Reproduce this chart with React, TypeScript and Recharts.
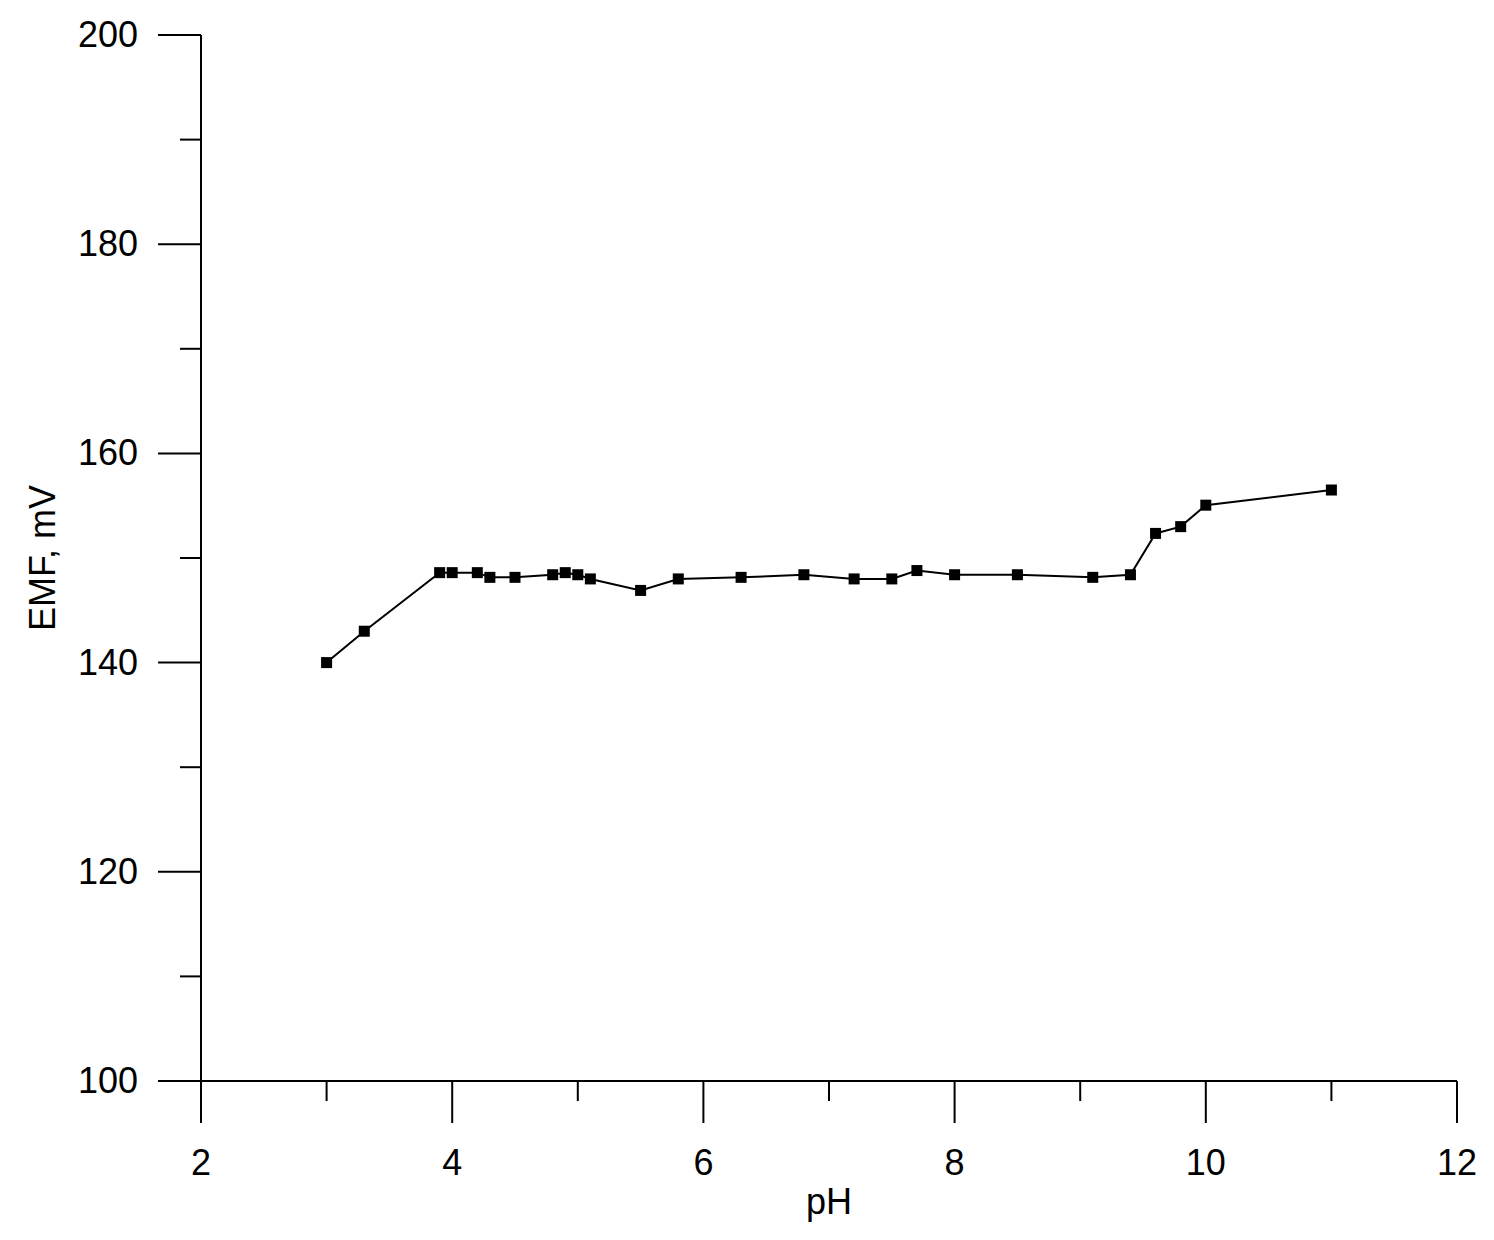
import { LineChart, Line, XAxis, YAxis, Label } from 'recharts';

const phValues = [3.0, 3.3, 3.9, 4.0, 4.2, 4.3, 4.5, 4.8, 4.9, 5.0, 5.1, 5.5, 5.8, 6.3, 6.8, 7.2, 7.5, 7.7, 8.0, 8.5, 9.1, 9.4, 9.6, 9.8, 10.0, 11.0];
const emfValues = [140.0, 143.0, 148.6, 148.6, 148.6, 148.15, 148.15, 148.4, 148.6, 148.4, 148.0, 146.9, 148.0, 148.15, 148.4, 148.0, 148.0, 148.8, 148.4, 148.4, 148.15, 148.4, 152.35, 153.0, 155.05, 156.5];

const xTicks = [2, 3, 4, 5, 6, 7, 8, 9, 10, 11, 12];
const yTicks = [100, 110, 120, 130, 140, 150, 160, 170, 180, 190, 200];

const data = phValues.map((ph, i) => ({ ph, emf: emfValues[i] }));

const FONT = '"Liberation Sans", Arial, sans-serif';

function XTick({ x, y, payload }: any) {
  const major = payload.value % 2 === 0;
  return (
    <g>
      <line x1={x} x2={x} y1={y} y2={y + (major ? 42 : 20)} stroke="#000" strokeWidth={2} />
      {major && (
        <text x={x} y={y + 94} textAnchor="middle" fontSize={36} fontFamily={FONT} fill="#000">
          {payload.value}
        </text>
      )}
    </g>
  );
}

function YTick({ x, y, payload }: any) {
  const major = payload.value % 20 === 0;
  return (
    <g>
      <line x1={x} x2={x - (major ? 43 : 21)} y1={y} y2={y} stroke="#000" strokeWidth={2} />
      {major && (
        <text x={x - 63} y={y + 12} textAnchor="end" fontSize={36} fontFamily={FONT} fill="#000">
          {payload.value}
        </text>
      )}
    </g>
  );
}

function SquareDot({ cx, cy }: any) {
  if (cx == null || cy == null) return null;
  return <rect x={cx - 5.5} y={cy - 5.5} width={11} height={11} fill="#000" />;
}

export default function App() {
  return (
    <div style={{ position: 'absolute', left: 0, top: 0, width: 1494, height: 1240, background: '#fff' }}>
      <LineChart width={1494} height={1240} data={data} margin={{ top: 35, right: 37, left: 0, bottom: 0 }}>
        <XAxis
          dataKey="ph"
          type="number"
          domain={[2, 12]}
          ticks={xTicks}
          interval={0}
          height={159}
          tickSize={0}
          tickMargin={0}
          tickLine={false}
          tick={<XTick />}
          axisLine={{ stroke: '#000', strokeWidth: 2 }}
        >
          <Label
            content={({ viewBox }: any) => (
              <text
                x={viewBox.x + viewBox.width / 2}
                y={viewBox.y + 133}
                textAnchor="middle"
                fontSize={36}
                fontFamily={FONT}
                fill="#000"
              >
                pH
              </text>
            )}
          />
        </XAxis>
        <YAxis
          type="number"
          domain={[100, 200]}
          ticks={yTicks}
          interval={0}
          width={201}
          tickSize={0}
          tickMargin={0}
          tickLine={false}
          tick={<YTick />}
          axisLine={{ stroke: '#000', strokeWidth: 2 }}
        >
          <Label
            content={({ viewBox }: any) => {
              const cx = viewBox.x + 55;
              const cy = viewBox.y + viewBox.height / 2;
              return (
                <text
                  x={cx}
                  y={cy}
                  transform={`rotate(-90, ${cx}, ${cy})`}
                  textAnchor="middle"
                  fontSize={36}
                  fontFamily={FONT}
                  fill="#000"
                >
                  EMF, mV
                </text>
              );
            }}
          />
        </YAxis>
        <Line
          dataKey="emf"
          type="linear"
          stroke="#000"
          strokeWidth={2}
          dot={<SquareDot />}
          activeDot={false}
          isAnimationActive={false}
        />
      </LineChart>
    </div>
  );
}
